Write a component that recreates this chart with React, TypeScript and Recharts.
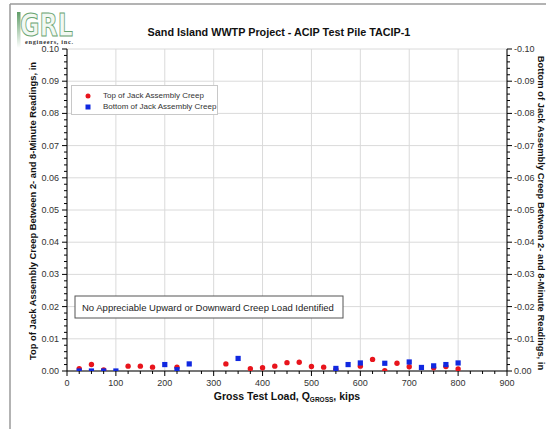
import React from "react";
import { ScatterChart, Scatter, XAxis, YAxis, CartesianGrid, Legend } from "recharts";

const FONT = "'Liberation Sans', Arial, sans-serif";

// Top of jack assembly creep (left axis, in)
const topLoads = [25, 50, 75, 125, 150, 175, 225, 325, 375, 400, 425, 450, 475, 500, 525, 550, 600, 625, 650, 675, 700, 750, 775, 800];
const topCreep = [0.0007, 0.002, 0.0003, 0.0015, 0.0015, 0.0012, 0.0012, 0.0022, 0.0007, 0.001, 0.0015, 0.0026, 0.0027, 0.0014, 0.0012, 0.0005, 0.0015, 0.0036, 0.0001, 0.0024, 0.0013, 0.001, 0.0014, 0.0006];

// Bottom of jack assembly creep (right axis, reversed, in)
const bottomLoads = [25, 50, 75, 100, 200, 225, 250, 350, 550, 575, 600, 650, 700, 725, 750, 775, 800];
const bottomCreep = [0, 0, 0, 0, -0.002, -0.0004, -0.0022, -0.0039, -0.0008, -0.002, -0.0025, -0.0024, -0.0028, -0.0011, -0.0016, -0.002, -0.0025];

const seriesNames = ["Top of Jack Assembly Creep", "Bottom of Jack Assembly Creep"];

const leftMajor = [0, 0.01, 0.02, 0.03, 0.04, 0.05, 0.06, 0.07, 0.08, 0.09, 0.1];
const xMajor = [0, 100, 200, 300, 400, 500, 600, 700, 800, 900];

const leftTicks = Array.from({ length: 51 }, (_, i) => Math.round(i * 2) / 1000);
const rightTicks = Array.from({ length: 51 }, (_, i) => (i === 50 ? 0 : Math.round(-100 + i * 2) / 1000));
const xTicks = Array.from({ length: 37 }, (_, i) => i * 25);

const topData = topLoads.map((x, i) => ({ x, y: topCreep[i] }));
const bottomData = bottomLoads.map((x, i) => ({ x, y: bottomCreep[i] }));

const isMajorY = (v: number) => Math.abs(v * 100 - Math.round(v * 100)) < 1e-6;

function LeftTick({ x, y, payload }: any) {
  const v = payload.value;
  const major = isMajorY(v);
  return (
    <g>
      <line x1={x - (major ? 5 : 3)} x2={x} y1={y} y2={y} stroke="#000" />
      {major && (
        <text x={x - 8} y={y} dy={3} textAnchor="end" fontSize={9} fill="#333" fontFamily={FONT}>
          {v.toFixed(2)}
        </text>
      )}
    </g>
  );
}

function RightTick({ x, y, payload }: any) {
  const v = payload.value;
  const major = isMajorY(v);
  return (
    <g>
      <line x1={x} x2={x + (major ? 5 : 3)} y1={y} y2={y} stroke="#000" />
      {major && (
        <text x={x + 7} y={y} dy={3} textAnchor="start" fontSize={9} fill="#333" fontFamily={FONT}>
          {v === 0 ? "0.00" : v.toFixed(2)}
        </text>
      )}
    </g>
  );
}

function BottomTick({ x, y, payload }: any) {
  const v = payload.value;
  const major = v % 100 === 0;
  return (
    <g>
      <line x1={x} x2={x} y1={y} y2={y + (major ? 5 : 3)} stroke="#000" />
      {major && (
        <text x={x} y={y + 15} textAnchor="middle" fontSize={9} fill="#333" fontFamily={FONT}>
          {v}
        </text>
      )}
    </g>
  );
}

const RedDot = ({ cx, cy }: any) => <circle cx={cx} cy={cy} r={2.7} fill="#e8141c" />;
const BlueSquare = ({ cx, cy }: any) => <rect x={cx - 2.6} y={cy - 2.6} width={5.2} height={5.2} fill="#1028e0" />;

function LegendBox({ payload }: any) {
  const items = [...(payload || [])].sort(
    (a: any, b: any) => seriesNames.indexOf(a.value) - seriesNames.indexOf(b.value)
  );
  return (
    <div
      style={{
        width: 147,
        height: 30,
        boxSizing: "border-box",
        border: "1px solid #c8c8c8",
        background: "#fff",
        fontFamily: FONT,
        fontSize: 8,
        color: "#333",
        padding: "4px 0 0 12px",
        lineHeight: "11px",
      }}
    >
      {items.map((e: any, i: number) => (
        <div key={i} style={{ display: "flex", alignItems: "center" }}>
          <svg width={8} height={8} style={{ marginRight: 11 }}>
            {e.value === seriesNames[0] ? (
              <circle cx={4} cy={4} r={2.5} fill="#e8141c" />
            ) : (
              <rect x={1.5} y={1.5} width={5} height={5} fill="#1028e0" />
            )}
          </svg>
          <span>{e.value}</span>
        </div>
      ))}
    </div>
  );
}

export default function App() {
  return (
    <div style={{ position: "absolute", left: 0, top: 0, width: 546, height: 429, background: "#fff", overflow: "hidden" }}>
      <ScatterChart width={546} height={429} margin={{ top: 49, right: 0, bottom: 0, left: 0 }}>
        <CartesianGrid stroke="#dadada" horizontalValues={leftMajor} verticalValues={xMajor} />
        <XAxis
          type="number"
          dataKey="x"
          domain={[0, 900]}
          ticks={xTicks}
          interval={0}
          height={58}
          tickSize={0}
          tickMargin={0}
          tickLine={false}
          axisLine={{ stroke: "#000" }}
          tick={<BottomTick />}
        />
        <YAxis
          type="number"
          dataKey="y"
          domain={[0, 0.1]}
          ticks={leftTicks}
          interval={0}
          width={67}
          tickSize={0}
          tickMargin={0}
          tickLine={false}
          axisLine={{ stroke: "#000" }}
          tick={<LeftTick />}
          allowDataOverflow
        />
        <YAxis
          yAxisId="R"
          orientation="right"
          type="number"
          dataKey="y"
          domain={[-0.1, 0]}
          reversed
          ticks={rightTicks}
          interval={0}
          width={39}
          tickSize={0}
          tickMargin={0}
          tickLine={false}
          axisLine={{ stroke: "#000" }}
          tick={<RightTick />}
          allowDataOverflow
        />
        <Legend
          layout="vertical"
          align="center"
          verticalAlign="middle"
          content={<LegendBox />}
          wrapperStyle={{ left: 71, top: 85, width: 147, height: 30 }}
        />
        <Scatter name={seriesNames[0]} data={topData} fill="#e8141c" shape={<RedDot />} isAnimationActive={false} />
        <Scatter name={seriesNames[1]} yAxisId="R" data={bottomData} fill="#1028e0" shape={<BlueSquare />} isAnimationActive={false} />
      </ScatterChart>

      <svg width={546} height={429} style={{ position: "absolute", left: 0, top: 0, pointerEvents: "none" }} fontFamily={FONT}>
        {/* page frame */}
        <line x1={10} y1={4} x2={546} y2={4} stroke="#9a9a9a" strokeWidth={1.5} />
        <line x1={10} y1={4} x2={10} y2={429} stroke="#9a9a9a" strokeWidth={1.5} />
        {/* logo */}
        <defs>
          <linearGradient id="bar" x1="0" y1="0" x2="0" y2="1">
            <stop offset="0" stopColor="#5f9d67" />
            <stop offset="1" stopColor="#ffffff" />
          </linearGradient>
        </defs>
        <rect x={17} y={12} width={3.5} height={36} fill="url(#bar)" />
        <text
          x={20}
          y={36}
          fontSize={32}
          fontWeight="bold"
          fill="#f2f8f2"
          stroke="#6aa572"
          strokeWidth={1}
          textLength={53}
          lengthAdjust="spacingAndGlyphs"
          fontFamily="'DejaVu Sans', sans-serif"
        >
          GRL
        </text>
        <text x={25} y={44} fontSize={6.3} fontWeight="bold" fill="#333" textLength={48} fontFamily="'Liberation Serif', serif">
          engineers, inc.
        </text>
        {/* title */}
        <text x={279} y={36} textAnchor="middle" fontSize={10.8} fontWeight="bold" fill="#111">
          Sand Island WWTP Project - ACIP Test Pile TACIP-1
        </text>
        {/* axis titles */}
        <text transform="translate(36,211) rotate(-90)" textAnchor="middle" fontSize={9.4} fontWeight="bold" fill="#111">
          Top of Jack Assembly Creep Between 2- and 8-Minute Readings, in
        </text>
        <text transform="translate(538,213) rotate(90)" textAnchor="middle" fontSize={9.4} fontWeight="bold" fill="#111">
          Bottom of Jack Assembly Creep Between 2- and 8-Minute Readings, in
        </text>
        <text x={287} y={400} textAnchor="middle" fontSize={10.5} fontWeight="bold" fill="#111">
          Gross Test Load, Q<tspan fontSize={6.5} dy={2}>GROSS</tspan>
          <tspan dy={-2}>, kips</tspan>
        </text>
        {/* annotation */}
        <rect x={75} y={296} width={268} height={22} fill="#fff" stroke="#555" strokeWidth={1} />
        <text x={82} y={310.5} fontSize={9.5} fill="#222">
          No Appreciable Upward or Downward Creep Load Identified
        </text>
      </svg>
    </div>
  );
}
